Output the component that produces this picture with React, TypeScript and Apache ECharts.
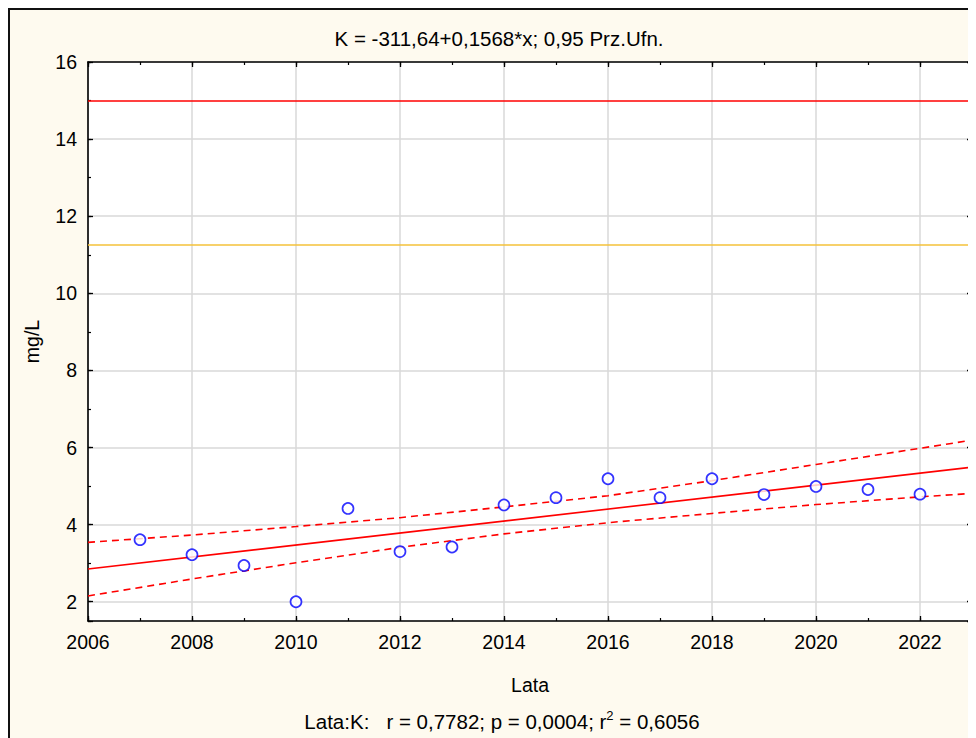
import React, { useEffect, useRef } from "react";
import * as echarts from "echarts";

const years = [2007, 2008, 2009, 2010, 2011, 2012, 2013, 2014, 2015, 2016, 2017, 2018, 2019, 2020, 2021, 2022];
const values = [3.61, 3.22, 2.94, 2.0, 4.42, 3.3, 3.42, 4.51, 4.7, 5.19, 4.7, 5.19, 4.78, 4.99, 4.91, 4.79];

const fitX = [2006, 2023];
const fitY = [2.85, 5.49];

const bandX = [2006, 2008, 2010, 2012, 2014, 2016, 2018, 2020, 2022, 2023];
const upperBand = [3.54, 3.73, 3.95, 4.18, 4.46, 4.75, 5.14, 5.56, 5.98, 6.19];
const lowerBand = [2.15, 2.59, 3.01, 3.41, 3.76, 4.05, 4.29, 4.52, 4.72, 4.81];

const limitRed = 15;
const limitOrange = 11.25;

const titleText = "K = -311,64+0,1568*x; 0,95 Prz.Ufn.";
const xName = "Lata";
const yName = "mg/L";

const FONT = "'Liberation Sans', Arial, Helvetica, sans-serif";

export default function App() {
  const ref = useRef<HTMLDivElement>(null);

  useEffect(() => {
    if (!ref.current) return;
    const chart = echarts.init(ref.current, undefined, { renderer: "svg" });

    const gridLine = { show: true, lineStyle: { color: "#d9d9d9", width: 1.5 } };
    const axisLine = { show: true, onZero: false, lineStyle: { color: "#000", width: 1.6 } };

    const xBase = { type: "value", min: 2006, max: 2023, gridIndex: 0 };
    const yBase = { type: "value", min: 1.5, max: 16, gridIndex: 0 };

    const option: any = {
      animation: false,
      backgroundColor: "transparent",
      textStyle: { fontFamily: FONT },
      grid: { left: 78, top: 52, width: 884, height: 559, show: true, backgroundColor: "#fff", borderWidth: 0 },
      graphic: [
        {
          type: "text",
          x: 489,
          y: 28,
          style: {
            text: titleText,
            font: `20.5px ${FONT}`,
            fill: "#000",
            textAlign: "center",
            textVerticalAlign: "middle",
          },
        },
        {
          type: "text",
          x: 492,
          y: 711,
          style: {
            text: "{n|Lata:K:   r = 0,7782; p = 0,0004; r}{s|2}{n| = 0,6056}",
            textAlign: "center",
            textVerticalAlign: "middle",
            rich: {
              n: { fontSize: 20.5, fontFamily: FONT, color: "#000", lineHeight: 24 },
              s: { fontSize: 13, fontFamily: FONT, color: "#000", lineHeight: 14, verticalAlign: "top" },
            },
          },
        },
      ],
      xAxis: [
        {
          ...xBase,
          position: "bottom",
          interval: 2,
          axisLine,
          axisTick: { show: true, inside: true, length: 5, lineStyle: { color: "#000", width: 1.3 } },
          axisLabel: {
            show: true,
            margin: 11,
            fontSize: 19.5,
            fontFamily: FONT,
            color: "#000",
            formatter: (v: number) => (v % 2 === 0 ? String(v) : ""),
          },
          splitLine: gridLine,
          name: xName,
          nameLocation: "middle",
          nameGap: 54,
          nameTextStyle: { fontSize: 19.5, fontFamily: FONT, color: "#000" },
        },
        {
          ...xBase,
          position: "bottom",
          interval: 1,
          axisLine: { show: false },
          axisTick: { show: true, inside: true, length: 3, lineStyle: { color: "#000", width: 1.2 } },
          axisLabel: { show: false },
          splitLine: { show: false },
        },
        {
          ...xBase,
          position: "top",
          interval: 2,
          axisLine,
          axisTick: { show: true, inside: true, length: 5, lineStyle: { color: "#000", width: 1.3 } },
          axisLabel: { show: false },
          splitLine: { show: false },
        },
        {
          ...xBase,
          position: "top",
          interval: 1,
          axisLine: { show: false },
          axisTick: { show: true, inside: true, length: 3, lineStyle: { color: "#000", width: 1.2 } },
          axisLabel: { show: false },
          splitLine: { show: false },
        },
      ],
      yAxis: [
        {
          ...yBase,
          position: "left",
          minInterval: 2,
          maxInterval: 2,
          axisLine,
          axisTick: { show: true, inside: true, length: 5, lineStyle: { color: "#000", width: 1.3 } },
          axisLabel: {
            show: true,
            margin: 11,
            fontSize: 19.5,
            fontFamily: FONT,
            color: "#000",
            formatter: (v: number) => (Math.abs(v % 2) < 1e-9 ? String(v) : ""),
          },
          splitLine: gridLine,
          name: yName,
          nameLocation: "middle",
          nameGap: 46,
          nameTextStyle: { fontSize: 19.5, fontFamily: FONT, color: "#000" },
        },
        {
          ...yBase,
          position: "left",
          minInterval: 1,
          maxInterval: 1,
          axisLine: { show: false },
          axisTick: { show: true, inside: true, length: 3, lineStyle: { color: "#000", width: 1.2 } },
          axisLabel: { show: false },
          splitLine: { show: false },
        },
        {
          ...yBase,
          position: "right",
          minInterval: 2,
          maxInterval: 2,
          axisLine,
          axisTick: { show: true, inside: true, length: 5, lineStyle: { color: "#000", width: 1.3 } },
          axisLabel: { show: false },
          splitLine: { show: false },
        },
        {
          ...yBase,
          position: "right",
          minInterval: 1,
          maxInterval: 1,
          axisLine: { show: false },
          axisTick: { show: true, inside: true, length: 3, lineStyle: { color: "#000", width: 1.2 } },
          axisLabel: { show: false },
          splitLine: { show: false },
        },
      ],
      series: [
        {
          type: "line",
          name: "limits",
          xAxisIndex: 0,
          yAxisIndex: 0,
          data: [],
          markLine: {
            silent: true,
            symbol: "none",
            label: { show: false },
            data: [
              { yAxis: limitRed, lineStyle: { color: "#ff0000", width: 1.5, type: "solid" } },
              { yAxis: limitOrange, lineStyle: { color: "#f5c23a", width: 1.5, type: "solid" } },
            ],
          },
          z: 2,
        },
        {
          type: "line",
          name: "fit",
          xAxisIndex: 0,
          yAxisIndex: 0,
          data: fitX.map((x, i) => [x, fitY[i]]),
          symbol: "none",
          lineStyle: { color: "#ff0000", width: 1.6 },
          z: 3,
        },
        {
          type: "line",
          name: "upper",
          xAxisIndex: 0,
          yAxisIndex: 0,
          data: bandX.map((x, i) => [x, upperBand[i]]),
          symbol: "none",
          lineStyle: { color: "#ff0000", width: 1.6, type: [7, 5] },
          z: 3,
        },
        {
          type: "line",
          name: "lower",
          xAxisIndex: 0,
          yAxisIndex: 0,
          data: bandX.map((x, i) => [x, lowerBand[i]]),
          symbol: "none",
          lineStyle: { color: "#ff0000", width: 1.6, type: [7, 5] },
          z: 3,
        },
        {
          type: "scatter",
          name: "K",
          xAxisIndex: 0,
          yAxisIndex: 0,
          data: years.map((x, i) => [x, values[i]]),
          symbol: "circle",
          symbolSize: 11,
          itemStyle: { color: "#ffffff", borderColor: "#0000ff", borderWidth: 1.7 },
          z: 4,
        },
      ],
    };

    chart.setOption(option);
    return () => chart.dispose();
  }, []);

  return (
    <div
      style={{
        width: 968,
        height: 730,
        boxSizing: "border-box",
        borderLeft: "2px solid #111",
        borderTop: "2px solid #111",
        background: "#fefaef",
        overflow: "hidden",
      }}
    >
      <div ref={ref} style={{ width: 966, height: 728 }} />
    </div>
  );
}
